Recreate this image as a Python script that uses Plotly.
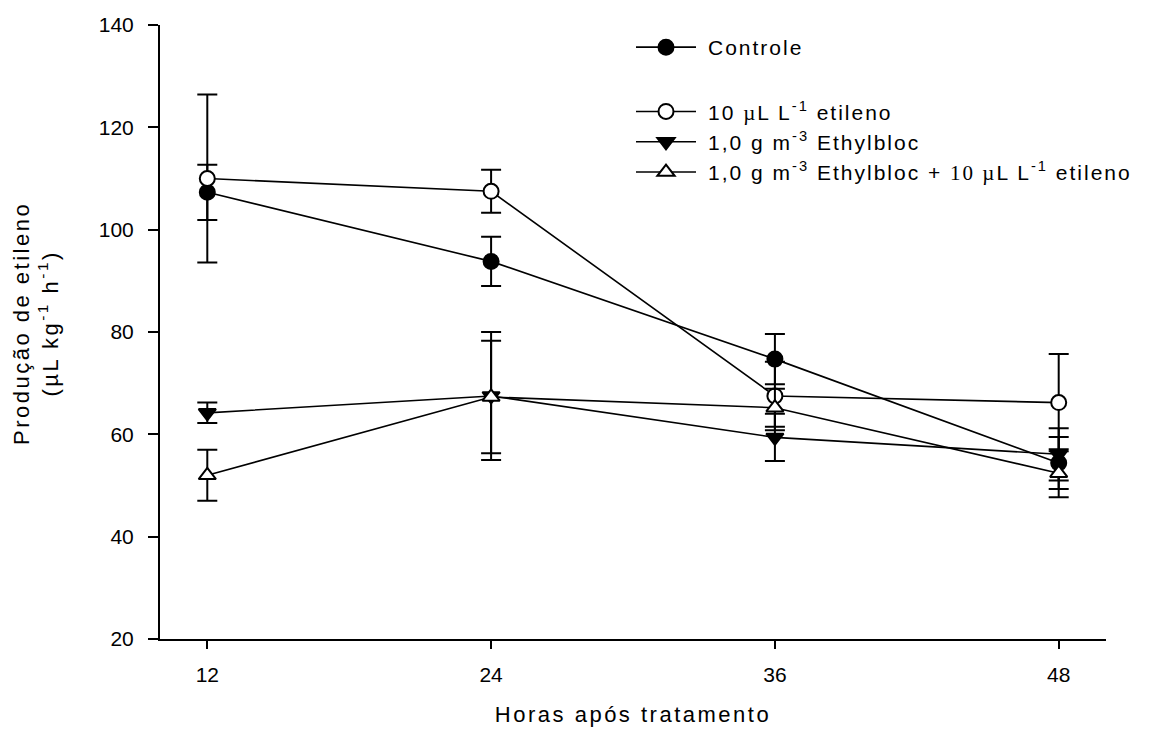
import plotly.graph_objects as go

# Hours after treatment
hours = [12, 24, 36, 48]

# Ethylene production (µL kg-1 h-1), mean and error per treatment
controle = [107.3, 93.8, 74.7, 54.4]
controle_err = [5.4, 4.8, 4.9, 5.1]

etileno = [110.0, 107.5, 67.5, 66.2]
etileno_err = [16.4, 4.2, 6.7, 9.5]

ethylbloc = [64.2, 67.5, 59.4, 56.1]
ethylbloc_err = [2.0, 12.5, 4.6, 5.1]

combo = [52.0, 67.3, 65.2, 52.4]
combo_err = [5.0, 11.0, 3.7, 4.7]

SERIF = "font-family:'Liberation Serif'"


def spaced(text, px=1.5):
    return f'<span style="letter-spacing:{px}px">{text}</span>'


names = [
    "\u2004" + spaced("Controle", 2),
    "\u2004" + spaced(f'10 <span style="{SERIF}">µ</span>L L<sup>-1</sup> etileno', 2),
    "\u2004" + spaced("1,0 g m<sup>-3</sup> Ethylbloc", 2),
    "\u2004" + spaced(f'1,0 g m<sup>-3</sup> Ethylbloc + <span style="{SERIF}">10 µ</span>L L<sup>-1</sup> etileno', 2),
]

FONT = "Liberation Sans"
LW = 1.6     # connecting lines
BW = 2.0     # error bars, marker outlines, axes


def series(y, err, name, symbol, fill, group):
    return go.Scatter(
        x=hours,
        y=y,
        name=name,
        mode="lines+markers",
        legendgroup=group,
        line=dict(color="black", width=LW),
        marker=dict(symbol=symbol, size=15, color=fill,
                    line=dict(color="black", width=BW)),
        error_y=dict(type="data", array=err, visible=True,
                     color="black", thickness=BW, width=10),
    )


fig = go.Figure()
fig.add_trace(series(controle, controle_err, names[0], "circle", "black", "a"))
fig.add_trace(series(etileno, etileno_err, names[1], "circle", "white", "b"))
fig.add_trace(series(ethylbloc, ethylbloc_err, names[2], "triangle-down", "black", "b"))
fig.add_trace(series(combo, combo_err, names[3], "triangle-up", "white", "b"))

axis_common = dict(
    showline=True, linecolor="black", linewidth=BW,
    ticks="outside", tickcolor="black", tickwidth=BW,
    showgrid=False, zeroline=False, mirror=False,
    tickfont=dict(family=FONT, size=21, color="black"),
    automargin=False,
)

fig.update_layout(
    width=1149, height=733,
    margin=dict(l=160, r=43, t=25, b=94),
    paper_bgcolor="white", plot_bgcolor="white",
    font=dict(family=FONT, size=21, color="black"),
    xaxis=dict(
        range=[10, 50], tickvals=hours, ticklen=8, ticklabelstandoff=8,
        title=dict(text=spaced("Horas após tratamento", 2.5), standoff=21,
                   font=dict(family=FONT, size=22)),
        **axis_common,
    ),
    yaxis=dict(
        range=[20, 140], tick0=20, dtick=20, ticklen=10, ticklabelstandoff=10,
        **axis_common,
    ),
    legend=dict(
        x=(631 - 160) / 946, xanchor="left",
        y=1.0 - 2 / 614, yanchor="top",
        bgcolor="rgba(0,0,0,0)",
        traceorder="grouped", tracegroupgap=34,
        itemwidth=60,
        font=dict(family=FONT, size=21, color="black"),
    ),
    showlegend=True,
)

# Two-line y-axis title placed left of the tick labels
fig.add_annotation(
    text=spaced("Produção de etileno<br>(µL kg<sup>-1</sup> h<sup>-1</sup>)", 2.5),
    xref="paper", yref="paper",
    x=(36 - 160) / 946, y=(639 - 323) / 614,
    xanchor="center", yanchor="middle",
    textangle=-90, showarrow=False,
    font=dict(family=FONT, size=22, color="black"),
)

fig.write_html("out.html")
